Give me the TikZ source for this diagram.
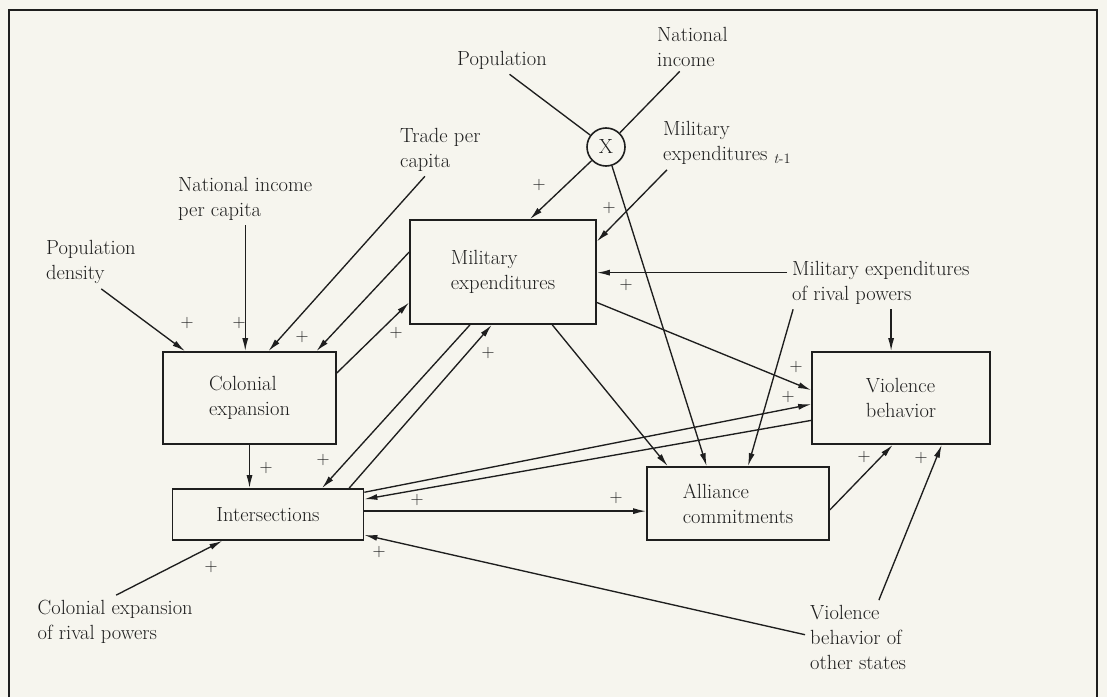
\documentclass[tikz,border=0pt]{standalone}
\usepackage{tikz}
\usetikzlibrary{arrows.meta}
\definecolor{paper}{RGB}{246,245,238}
\definecolor{ink}{RGB}{30,30,30}

\begin{document}
\begin{tikzpicture}[x=1pt, y=-1pt, >={Latex[length=13pt,width=6pt]}]
\tikzstyle{every node}=[text=ink, font=\fontsize{20.5}{25}\selectfont]
\tikzstyle{box}=[draw=ink, line width=1.7pt, rectangle, align=left]
\tikzstyle{lbl}=[anchor=west, align=left, inner sep=5pt]
\tikzstyle{plus}=[inner sep=0pt, font=\fontsize{18}{18}\selectfont]
\tikzstyle{link}=[draw=ink, line width=1.35pt, ->]

\fill[paper] (0,0) rectangle (1107,697);
\draw[ink, line width=1.6pt] (9,697) -- (9,10) -- (1097,10) -- (1097,697);

% boxes
\node[box, minimum width=186pt, minimum height=104pt] (ME) at (503,272) {Military\\expenditures};
\node[box, minimum width=173pt, minimum height=92pt] (CE) at (249.5,398) {Colonial\\expansion};
\node[box, minimum width=191pt, minimum height=51pt] (I) at (268,514.5) {Intersections};
\node[box, minimum width=178pt, minimum height=92pt] (VB) at (901,398) {Violence\\behavior};
\node[box, minimum width=182pt, minimum height=73pt] (AC) at (738,503.5) {Alliance\\commitments};
\node[circle, draw=ink, line width=1.6pt, minimum size=38pt, inner sep=0pt] (X) at (606,147) {X};

% labels
\node[lbl] (pop) at (452,60) {Population};
\node[lbl] (natinc) at (652,46.5) {National\\income};
\node[lbl] (metm1) at (658,143) {Military\\expenditures \textsubscript{\textit{t}-1}};
\node[lbl] (trade) at (395,149.5) {Trade per\\capita};
\node[lbl] (nipc) at (173,198.5) {National income\\per capita};
\node[lbl] (popdens) at (41,262) {Population\\density};
\node[lbl] (rival) at (787,282.5) {Military expenditures\\of rival powers};
\node[lbl] (cerp) at (32.5,622) {Colonial expansion\\of rival powers};
\node[lbl] (vbos) at (805,637.5) {Violence\\behavior of\\other states};

% links
\draw[ink, line width=1.35pt] (pop.-62) -- (X) (natinc.-117) -- (X);
\foreach \a/\b in {X/ME.63, X/AC.130, metm1.-156/ME.18, trade.-120/CE.68,
    popdens.-69/CE.144, ME.168/CE.35, CE.16/ME.198, ME.238/I.26, I.18/ME.258,
    ME.-47/AC.152, ME.-18/VB.175, rival.197/AC.75, I.13/VB.184, VB.194/I.9,
    AC.-4/VB.260, vbos.61/VB.-49, vbos.177/I.-12, cerp.88/I.210}
  {\draw[link] (\a) -- (\b);}
\draw[link] (nipc.south) -- (nipc.south |- CE.north);
\draw[link] (CE.south) -- (CE.south |- I.north);
\draw[link] (rival.174) -- (rival.174 -| ME.east);
\draw[link] (rival.-69) -- (rival.-69 |- VB.north);
\draw[link] (I.2) -- (I.2 -| AC.west);

% signs
\foreach \x/\y [count=\n] in {187/323, 239/323, 302/337, 396/333, 539/185,
    609/208, 626/285, 488/353, 266/468, 323/460, 417/500, 616/498, 379/552,
    211/567, 796/367, 788/397, 864/457, 921/458}
  \node[plus] (p\n) at (\x,\y) {+};
\end{tikzpicture}
\end{document}
